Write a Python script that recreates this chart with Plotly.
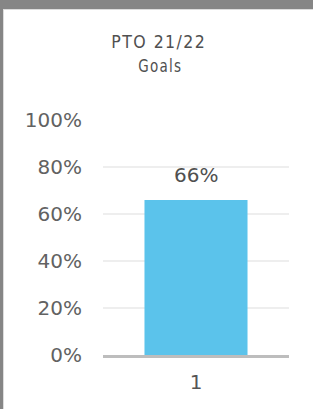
import plotly.graph_objects as go

categories = ["1"]
values = [0.66]
labels = ["66%"]
title_lines = ["PTO 21/22", "Goals"]
y_ticks = [0, 0.2, 0.4, 0.6, 0.8, 1.0]
y_tick_labels = ["0%", "20%", "40%", "60%", "80%", "100%"]

W, H = 313, 409
L, R, T, B = 103, 24, 120, 54
pw, ph = W - L - R, H - T - B

def px(x):
    return (x - L) / pw

def py(y):
    return (H - B - y) / ph

TICK_FONT = "'DejaVu Sans', sans-serif"
TITLE_FONT = "'DejaVu Sans', sans-serif"

fig = go.Figure()
fig.add_trace(go.Bar(
    x=categories, y=values,
    marker=dict(color="#5BC3EB", line=dict(width=0)),
    width=0.554,
))

shapes = [
    dict(type="rect", xref="paper", yref="paper", x0=px(0), x1=px(W), y0=py(0), y1=py(9),
         fillcolor="#868686", line=dict(width=0), layer="below"),
    dict(type="rect", xref="paper", yref="paper", x0=px(0), x1=px(3), y0=py(0), y1=py(H),
         fillcolor="#868686", line=dict(width=0), layer="below"),
    dict(type="rect", xref="paper", yref="paper", x0=px(3), x1=px(W), y0=py(9), y1=py(10),
         fillcolor="#dddddd", line=dict(width=0), layer="below"),
    dict(type="rect", xref="paper", yref="paper", x0=px(3), x1=px(4), y0=py(10), y1=py(H),
         fillcolor="#dddddd", line=dict(width=0), layer="below"),
]

annotations = [
    dict(text=title_lines[0], xref="paper", yref="paper", x=px(159), y=py(42),
         showarrow=False, xanchor="center", yanchor="middle", borderpad=0,
         font=dict(family=TITLE_FONT, size=18, color="#505050")),
    dict(text=title_lines[1], xref="paper", yref="paper", x=px(160), y=py(66),
         showarrow=False, xanchor="center", yanchor="middle", borderpad=0,
         font=dict(family=TITLE_FONT, size=18, color="#505050")),
]
for i, (v, t) in enumerate(zip(values, labels)):
    annotations.append(dict(text=t, x=i, y=v, xref="x", yref="y", showarrow=False,
                            xanchor="center", yanchor="bottom", yshift=11,
                            font=dict(family=TICK_FONT, size=20, color="#505050")))

fig.update_layout(
    width=W, height=H,
    margin=dict(l=L, r=R, t=T, b=B, pad=0),
    paper_bgcolor="white", plot_bgcolor="white",
    showlegend=False,
    shapes=shapes, annotations=annotations,
    xaxis=dict(type="category", range=[-0.5, len(categories) - 0.5],
               showgrid=False, showline=True, linecolor="#bdbdbd", linewidth=3,
               ticks="", tickfont=dict(family=TICK_FONT, size=20, color="#555555"),
               ticklabelstandoff=7, fixedrange=True),
    yaxis=dict(range=[0, 1], tickvals=y_ticks, ticktext=y_tick_labels,
               showgrid=True, gridcolor="#eeeeee", gridwidth=2, zeroline=False,
               showline=False, ticks="",
               tickfont=dict(family=TICK_FONT, size=20, color="#626262"),
               ticklabelstandoff=20, fixedrange=True),
)

post = """
document.body.style.margin='0';
document.body.style.overflow='hidden';
var titles = %s;
var widths = [95, 44];
document.querySelectorAll('.annotation-text').forEach(function(el){
  var i = titles.indexOf(el.textContent);
  if (i >= 0) {
    el.style.fontStretch = 'condensed';
    el.style.letterSpacing = '1.5px';
    el.setAttribute('textLength', widths[i]);
    el.setAttribute('lengthAdjust', 'spacingAndGlyphs');
  }
});
""" % (repr(title_lines).replace("'", '"'))

fig.write_html("out.html", config={"displayModeBar": False}, post_script=post)
